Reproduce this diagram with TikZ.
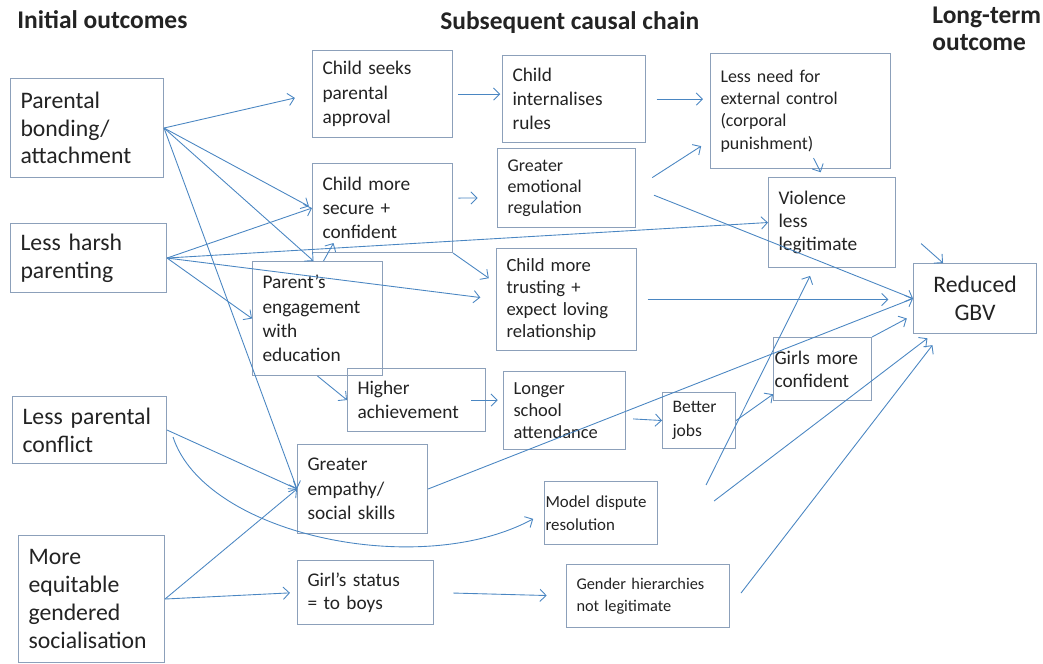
\documentclass[tikz,border=0pt]{standalone}
\usepackage{fontspec}
\setmainfont{Carlito}
\usetikzlibrary{arrows.meta}
\definecolor{boxline}{RGB}{140,160,186}
\definecolor{linkblue}{RGB}{74,134,194}
\definecolor{inktext}{RGB}{35,35,35}
\tikzset{
  box/.style={draw=boxline, line width=0.6pt, anchor=north west, align=left, inner xsep=0.2cm, inner ysep=0pt, text=inktext, font=\fontsize{11}{13.8}\selectfont},
  lead/.style={box, font=\fontsize{13.5}{15.8}\selectfont},
  head/.style={anchor=base west, inner sep=0pt, text=inktext, font=\bfseries\fontsize{14.5}{15}\selectfont},
  link/.style={draw=linkblue, line width=0.5pt, -{Straight Barb[length=3.5pt,width=7pt]}}
}

\begin{document}
\begin{tikzpicture}[x=0.02cm, y=-0.02cm]
    \useasboundingbox (0,0) rectangle (1043,663);

    \node[head] (Initial) at (17,28) {Initial outcomes};
    \node[head] (Chain) at (440,29) {Subsequent causal chain};
    \node[head, anchor=north west, align=left] (LongTerm) at (932,7) {Long-term\\outcome};

    \node[lead, text width=2.66cm, minimum height=1.98cm] (Bonding) at (10,78) {Parental\\bonding/\\attachment};
    \node[lead, text width=2.72cm, minimum height=1.38cm] (Harsh) at (10,223) {Less harsh\\parenting};
    \node[lead, text width=2.68cm, minimum height=1.34cm] (Conflict) at (12,396) {Less parental\\conflict};
    \node[lead, text width=2.52cm, minimum height=2.54cm] (Equitable) at (18,535) {More\\equitable\\gendered\\socialisation};

    \node[box, text width=2.4cm, minimum height=1.74cm] (Approval) at (312,50) {Child seeks\\parental\\approval};
    \node[box, text width=2.46cm, minimum height=1.74cm] (Rules) at (502,55) {Child\\internalises\\rules};
    \node[box, text width=3.2cm, minimum height=2.3cm, font=\fontsize{10.2}{12.7}\selectfont] (Control) at (710,53) {Less need for\\external control\\(corporal\\punishment)};
    \node[box, text width=2.4cm, minimum height=1.78cm] (Secure) at (312,163) {Child more\\secure +\\confident};
    \node[box, text width=2.36cm, minimum height=1.58cm, font=\fontsize{10.2}{12}\selectfont] (Emotional) at (497,148) {Greater\\emotional\\regulation};
    \node[box, text width=2.14cm, minimum height=1.8cm, font=\fontsize{11}{13}\selectfont] (Violence) at (768,177) {Violence\\less\\legitimate};
    \node[box, text width=2.2cm, minimum height=2.28cm] (Engagement) at (252,261) {Parent’s\\engagement\\with\\education};
    \node[box, text width=2.4cm, minimum height=2.04cm, font=\fontsize{10.6}{12.5}\selectfont] (Trusting) at (496,248) {Child more\\trusting +\\expect loving\\relationship};
    \node[lead, text width=2.06cm, minimum height=1.4cm, align=center] (GBV) at (913,263) {Reduced\\GBV};
    \node[box, text width=2.36cm, minimum height=1.26cm] (Achievement) at (347,368) {Higher\\achievement};
    \node[box, text width=2.04cm, minimum height=1.56cm, font=\fontsize{10.5}{12.5}\selectfont] (School) at (503,371) {Longer\\school\\attendance};
    \node[box, text width=1.06cm, minimum height=1.12cm, font=\fontsize{10}{13.5}\selectfont] (Jobs) at (662,392) {Better\\jobs};
    \node[box, inner xsep=0.02cm, text width=1.92cm, minimum height=1.26cm, font=\fontsize{11}{13}\selectfont] (GirlsConf) at (773,337) {Girls more\\confident};
    \node[box, text width=2.2cm, minimum height=1.78cm] (Empathy) at (297,444) {Greater\\empathy/\\social skills};
    \node[box, inner xsep=0.02cm, text width=2.22cm, minimum height=1.26cm, font=\fontsize{9.6}{13}\selectfont] (Dispute) at (544,481) {Model dispute\\resolution};
    \node[box, text width=2.32cm, minimum height=1.28cm, font=\fontsize{11}{13}\selectfont] (Status) at (297,560) {Girl’s status\\= to boys};
    \node[box, text width=2.86cm, minimum height=1.26cm, font=\fontsize{9.3}{12.5}\selectfont] (Hierarchies) at (566,564) {Gender hierarchies\\not legitimate};

    \draw[link, shorten >=10pt] (Bonding.east) -- (Approval.west);
    \draw[link, shorten >=2pt] (Bonding.east) -- (Secure.west);
    \draw[link] (Bonding.east) -- ([shift={(-4,0)}]Engagement.north);
    \draw[link] (Bonding.east) -- (Empathy.west);
    \draw[link] (Harsh.east) -- (Secure.west);
    \draw[link] (Harsh.east) -- (Violence.west);
    \draw[link, shorten >=9pt] (Harsh.east) -- (Trusting.west);
    \draw[link] (Harsh.east) -- (Engagement.west);
    \draw[link, shorten >=5pt] (Secure.south east) -- (Trusting.167);
    \draw[link, shorten <=3pt, shorten >=11pt] (Secure.8) -- (Emotional.188);
    \draw[link, shorten <=3pt, shorten >=1pt] (Approval.east) -- (Approval.east -| Rules.west);
    \draw[link, shorten <=6pt, shorten >=4pt] (Rules.east) -- (Rules.east -| Control.west);
    \draw[link, shorten <=11pt, shorten >=6pt] (Emotional.east) -- (Control.198);
    \draw[link, shorten <=11pt] (Emotional.east) -- (GBV.west);
    \draw[link, shorten >=3pt] ([shift={(13,-11)}]Control.south) -- ([shift={(-9,0)}]Violence.north);
    \draw[link] ([shift={(25,21)}]Violence.east) -- ([shift={(-32,0)}]GBV.north);
    \draw[link, shorten <=6pt, shorten >=14pt] (Trusting.east) -- (Trusting.east -| GBV.west);
    \draw[link] (Empathy.east) -- (GBV.west);
    \draw[link] (Engagement.south) -- (Achievement.west);
    \draw[link] ([shift={(6,0)}]Engagement.north) -- ([shift={(-49,-10)}]Secure.south);
    \draw[link, shorten >=3pt] ([shift={(-15,0)}]Achievement.east) -- (Achievement.east -| School.west);
    \draw[link, shorten <=4pt] ([shift={(0,8)}]School.east) -- (Jobs.west);
    \draw[link] (Jobs.east) -- (GirlsConf.207);
    \draw[link, shorten >=4pt] (GirlsConf.north east) -- (GBV.195);
    \draw[link, shorten >=5pt] ([shift={(48,4)}]Dispute.north east) -- ([shift={(-18,0)}]Violence.south);
    \draw[link, shorten >=4pt] ([shift={(56,-12)}]Dispute.east) -- ([shift={(-42,0)}]GBV.south);
    \draw[link, shorten >=8pt] ([shift={(11,-3)}]Hierarchies.east) -- ([shift={(-34,0)}]GBV.south);
    \draw[link] (Conflict.east) -- (Empathy.west);
    \draw[link, shorten >=7pt] ([shift={(6,7)}]Conflict.east) .. controls (205,535) and (420,580) .. (Dispute.west);
    \draw[link] (Equitable.east) -- (Empathy.west);
    \draw[link, shorten >=4pt] (Equitable.east) -- (Status.west);
    \draw[link, shorten <=11pt, shorten >=11pt] (Status.east) -- (Hierarchies.west);
\end{tikzpicture}
\end{document}
